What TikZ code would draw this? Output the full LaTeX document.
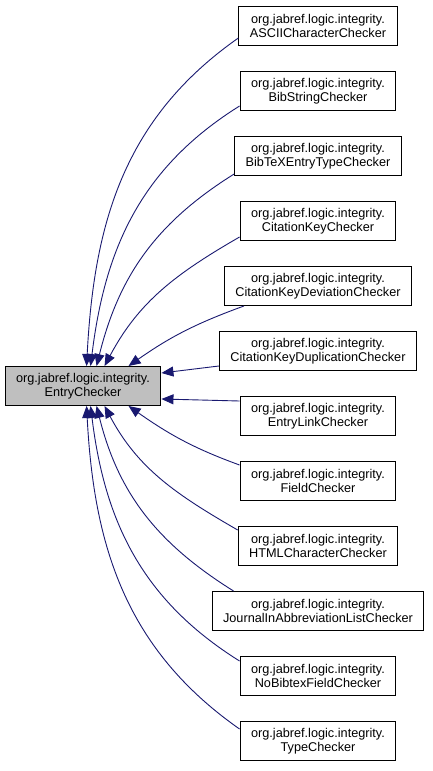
\documentclass[tikz,border=0pt]{standalone}
\usepackage{fontspec}
\setmainfont{Liberation Sans}
\usetikzlibrary{arrows.meta,positioning}
\definecolor{EdgeBlue}{HTML}{191970}
\definecolor{BaseGrey}{HTML}{BFBFBF}

\begin{document}
\begin{tikzpicture}[x=1pt,y=1pt,
      cls/.style={draw=black,line width=1pt,fill=white,minimum height=39pt,
      inner xsep=11pt,inner ysep=2pt,align=center,font=\fontsize{12.7}{14.3}\selectfont},
      base/.style={cls,fill=BaseGrey},
      >={Triangle[length=12pt,width=10pt]},
      inherit/.style={draw=EdgeBlue,line width=0.9pt,<-}]
      \useasboundingbox (0,0) rectangle (432,-771);
      \node[base] (entry) at (83,-386) {org.jabref.logic.integrity.\\EntryChecker};
      \node[cls] (ascii) at (318,-26) {org.jabref.logic.integrity.\\ASCIICharacterChecker};
      \node[cls,below=25pt of ascii] (bibstring) {org.jabref.logic.integrity.\\BibStringChecker};
      \node[cls,below=25pt of bibstring] (bibtex) {org.jabref.logic.integrity.\\BibTeXEntryTypeChecker};
      \node[cls,below=25pt of bibtex] (citekey) {org.jabref.logic.integrity.\\CitationKeyChecker};
      \node[cls,below=25pt of citekey] (deviation) {org.jabref.logic.integrity.\\CitationKeyDeviationChecker};
      \node[cls,below=25pt of deviation] (duplication) {org.jabref.logic.integrity.\\CitationKeyDuplicationChecker};
      \node[cls,below=25pt of duplication] (entrylink) {org.jabref.logic.integrity.\\EntryLinkChecker};
      \node[cls,below=25pt of entrylink] (field) {org.jabref.logic.integrity.\\FieldChecker};
      \node[cls,below=25pt of field] (html) {org.jabref.logic.integrity.\\HTMLCharacterChecker};
      \node[cls,below=25pt of html] (journal) {org.jabref.logic.integrity.\\JournalInAbbreviationListChecker};
      \node[cls,below=25pt of journal] (nobibtex) {org.jabref.logic.integrity.\\NoBibtexFieldChecker};
      \node[cls,below=25pt of nobibtex] (type) {org.jabref.logic.integrity.\\TypeChecker};
      % upper half
      \draw[inherit] ([xshift=82pt]entry.north west) to[out=87,in=-145] ([yshift=-12pt]ascii.west);
      \draw[inherit] ([xshift=86pt]entry.north west) to[out=83,in=-148] ([yshift=-15pt]bibstring.west);
      \draw[inherit] ([xshift=92pt]entry.north west) to[out=76,in=-148] ([yshift=-18pt]bibtex.west);
      \draw[inherit] ([xshift=100pt]entry.north west) to[out=62,in=-150] ([yshift=-16pt]citekey.west);
      \draw[inherit] ([xshift=124pt]entry.north west) to[out=35,in=-160] ([xshift=20pt]deviation.south west);
      \draw[inherit] ([yshift=-7pt]entry.north east) -- ([yshift=-15pt]duplication.west);
      % lower half
      \draw[inherit] ([yshift=7pt]entry.south east) -- ([yshift=15pt]entrylink.west);
      \draw[inherit] ([xshift=124pt]entry.south west) to[out=-35,in=160] ([yshift=16pt]field.west);
      \draw[inherit] ([xshift=100pt]entry.south west) to[out=-62,in=150] ([yshift=16pt]html.west);
      \draw[inherit] ([xshift=92pt]entry.south west) to[out=-76,in=148] ([xshift=22pt]journal.north west);
      \draw[inherit] ([xshift=86pt]entry.south west) to[out=-83,in=148] ([yshift=15pt]nobibtex.west);
      \draw[inherit] ([xshift=82pt]entry.south west) to[out=-87,in=145] ([yshift=12pt]type.west);
    \end{tikzpicture}
\end{document}
